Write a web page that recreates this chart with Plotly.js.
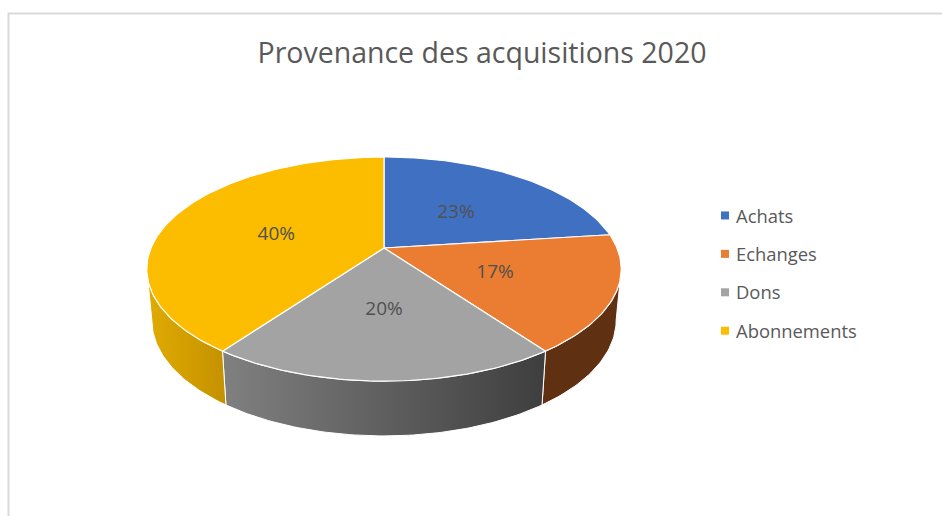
<!DOCTYPE html>
<html>
<head>
<meta charset="utf-8">
<script src="https://cdn.plot.ly/plotly-3.0.1.min.js"></script>
<style>html,body{margin:0;padding:0;background:#fff}#chart{width:942px;height:516px}</style>
</head>
<body>
<div id="chart"></div>
<script>
// Data
const categories = ["Achats", "Echanges", "Dons", "Abonnements"];
const values = [23, 17, 20, 40];
const topColors = ["#4070C2", "#EB7D32", "#A3A3A3", "#FCBD00"];
const wallGradients = [
  ["#2A4A80", "#2A4A80"],
  ["#5F3112", "#5F3112"],
  ["#808080", "#3E3E3E"],
  ["#E0AB00", "#C49100"]
];
const chartTitle = "Provenance des acquisitions 2020";

// Tilted-disc view: the axes run in picture units, a disc is projected into them
const K = 0.188;
const topDisc = {cx: 384, cy: 248, a: 233, b: 108.1};
const lowDisc = {cx: 384, cy: 298.6, a: 228, b: 111.5};
const labelDrop = 3;
function project(d, deg, r) {
  const t = deg * Math.PI / 180, s = r * Math.sin(t), c = r * Math.cos(t), D = 1 + K * c;
  return [d.cx + d.a * s / D, d.cy - d.b * c / D];
}
function arc(d, from, to) {
  const pts = [], n = Math.max(2, Math.ceil(Math.abs(to - from)));
  for (let i = 0; i <= n; i++) pts.push(project(d, from + (to - from) * i / n, 1));
  return pts;
}
const total = values.reduce((a, b) => a + b, 0);
let acc = 0;
const slices = values.map(v => { const s = {from: acc / total * 360}; acc += v; s.to = acc / total * 360; return s; });

// Only the front of the side wall can be seen
const wallStart = 180 - Math.acos(K) * 180 / Math.PI;
const wallEnd = 360 - wallStart;

const traces = [];
slices.forEach((s, i) => {
  const from = Math.max(s.from, wallStart), to = Math.min(s.to, wallEnd);
  if (to <= from) return;
  const pts = arc(topDisc, from, to).concat(arc(lowDisc, to, from));
  pts.push(pts[0]);
  traces.push({
    type: "scatter", mode: "lines", x: pts.map(p => p[0]), y: pts.map(p => p[1]),
    fill: "toself", showlegend: false, hoverinfo: "skip",
    line: {color: "#ffffff", width: 1},
    fillgradient: {type: "horizontal", colorscale: [[0, wallGradients[i][0]], [1, wallGradients[i][1]]]}
  });
});
slices.forEach((s, i) => {
  const pts = [[topDisc.cx, topDisc.cy]].concat(arc(topDisc, s.from, s.to));
  pts.push(pts[0]);
  traces.push({
    type: "scatter", mode: "lines", x: pts.map(p => p[0]), y: pts.map(p => p[1]),
    fill: "toself", fillcolor: topColors[i], showlegend: false,
    line: {color: "#ffffff", width: 1.2},
    hoveron: "fills", text: categories[i] + " " + values[i] + "%", hoverinfo: "text"
  });
});
const mids = slices.map(s => project(topDisc, (s.from + s.to) / 2, 0.5));
traces.push({
  type: "scatter", mode: "text", x: mids.map(p => p[0]), y: mids.map(p => p[1] + labelDrop),
  text: values.map(v => Math.round(v / total * 100) + "%"), textposition: "middle center",
  textfont: {family: "Open Sans, sans-serif", size: 19, color: "#505050"},
  showlegend: false, hoverinfo: "skip"
});
categories.forEach((c, i) => traces.push({
  type: "scatter", mode: "markers", x: [null], y: [null], name: c, legendgroup: c,
  marker: {symbol: "square", size: 8, color: topColors[i]}
}));

const layout = {
  width: 942, height: 516, margin: {l: 0, r: 0, t: 0, b: 0},
  paper_bgcolor: "#ffffff", plot_bgcolor: "#ffffff",
  title: {text: chartTitle, x: 482 / 942, xanchor: "center", xref: "paper",
          y: 1 - 53 / 516, yanchor: "middle", yref: "container",
          font: {family: "Open Sans, sans-serif", size: 28.5, color: "#595959"}},
  xaxis: {range: [0, 942], visible: false, fixedrange: true},
  yaxis: {range: [516, 0], visible: false, fixedrange: true},
  legend: {x: 696 / 942, xanchor: "left", y: 1 - 197 / 516, yanchor: "top",
           tracegroupgap: 11.5, bgcolor: "rgba(0,0,0,0)", itemclick: false, itemdoubleclick: false,
           font: {family: "Open Sans, sans-serif", size: 18.4, color: "#595959"}},
  shapes: [{type: "path", xref: "paper", yref: "paper", path: "M 0.0090 0 L 0.0090 0.974 L 1 0.974",
            line: {color: "#D9D9D9", width: 2}}]
};
Plotly.newPlot("chart", traces, layout, {displayModeBar: false, responsive: false}).then(gd => {
  // Plotly keeps a wider swatch column than the reference: move the swatches next to their text
  gd.querySelectorAll(".legend .legendpoints").forEach(g => g.setAttribute("transform", "translate(9,0)"));
});
</script>
</body>
</html>
